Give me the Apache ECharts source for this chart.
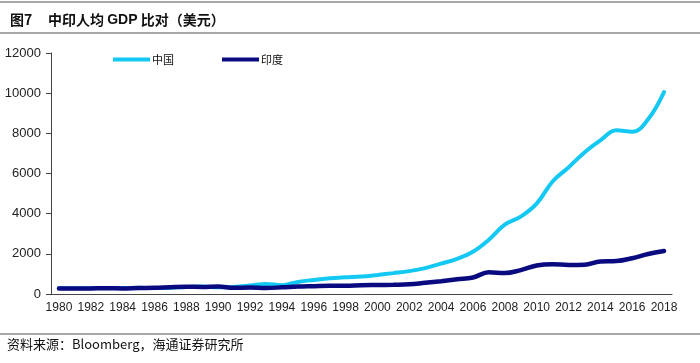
<!DOCTYPE html>
<html>
<head>
<meta charset="utf-8">
<script src="https://cdn.jsdelivr.net/npm/echarts@6/dist/echarts.min.js"></script>
<style>html,body{margin:0;padding:0;background:#fff}#c{width:700px;height:363px}</style>
</head>
<body>
<div id="c"></div>
<script>
const years = ['1980','1981','1982','1983','1984','1985','1986','1987','1988','1989','1990','1991','1992','1993','1994','1995','1996','1997','1998','1999','2000','2001','2002','2003','2004','2005','2006','2007','2008','2009','2010','2011','2012','2013','2014','2015','2016','2017','2018'];
const china = [300,290,290,300,300,310,300,310,350,370,330,350,420,500,440,600,700,780,830,870,950,1040,1140,1290,1510,1750,2100,2700,3450,3850,4500,5600,6300,7050,7650,8150,8080,8700,10050];
const india = [270,270,280,290,280,300,310,340,360,350,370,310,320,300,330,370,390,410,410,440,450,460,480,560,640,730,820,1080,1040,1190,1420,1480,1450,1460,1620,1640,1780,1990,2140];
const yTicks = [0,2000,4000,6000,8000,10000,12000];

const chart = echarts.init(document.getElementById('c'));
chart.setOption({
  animation: false,
  backgroundColor: '#fff',
  title: {
    left: 5, top: 8,
    text: '{a|图7}{b|中印人均 }{c|GDP}{b| 比对（美元）}',
    textStyle: {
      rich: {
        a: {fontFamily: 'Noto Sans CJK SC', fontWeight: 'bold', fontSize: 14, color: '#111', width: 38},
        b: {fontFamily: 'Noto Sans CJK SC', fontSize: 14, color: '#111'},
        c: {fontFamily: 'Liberation Sans', fontWeight: 'bold', fontSize: 14, color: '#111'}
      }
    }
  },
  graphic: [
    {type: 'line', shape: {x1: 0, y1: 2, x2: 700, y2: 2}, style: {stroke: '#8a8a8a', lineWidth: 1.5}},
    {type: 'line', shape: {x1: 0, y1: 33, x2: 700, y2: 33}, style: {stroke: '#8a8a8a', lineWidth: 1.5}},
    {type: 'line', shape: {x1: 0, y1: 334, x2: 700, y2: 334}, style: {stroke: '#8a8a8a', lineWidth: 1.5}},
    {type: 'text', left: 7, top: 338, style: {text: '资料来源：Bloomberg，海通证券研究所', fontFamily: 'Noto Sans CJK SC', fontSize: 13, fill: '#111'}}
  ],
  legend: {
    left: 108, top: 49,
    itemWidth: 37, itemHeight: 4, itemGap: 48,
    icon: 'rect',
    textStyle: {fontFamily: 'Noto Sans CJK SC', fontSize: 11, color: '#111', padding: [0,0,0,-3]},
    data: ['中国', '印度']
  },
  grid: {left: 51, right: 28, top: 53, bottom: 69},
  xAxis: {
    type: 'category',
    data: years,
    boundaryGap: true,
    axisLine: {lineStyle: {color: '#444', width: 1}},
    axisTick: {interval: 0, length: 5, lineStyle: {color: '#444'}},
    axisLabel: {interval: 1, fontFamily: 'Liberation Sans', fontSize: 12, color: '#222', margin: 8}
  },
  yAxis: {
    type: 'value',
    min: 0, max: 12000, interval: 2000,
    axisLine: {show: true, lineStyle: {color: '#444', width: 1}},
    axisTick: {show: true, length: 5, lineStyle: {color: '#444'}},
    splitLine: {show: false},
    axisLabel: {fontFamily: 'Liberation Sans', fontSize: 13, color: '#222', margin: 10,
      formatter: v => String(v)}
  },
  series: [
    {name: '中国', type: 'line', data: china, smooth: 0.4, symbol: 'none',
     lineStyle: {color: '#14C8F4', width: 4, cap: 'round'}, itemStyle: {color: '#14C8F4'}},
    {name: '印度', type: 'line', data: india, smooth: 0.4, symbol: 'none',
     lineStyle: {color: '#0A0A80', width: 4.5, cap: 'round'}, itemStyle: {color: '#0A0A80'}}
  ]
});
</script>
</body>
</html>
